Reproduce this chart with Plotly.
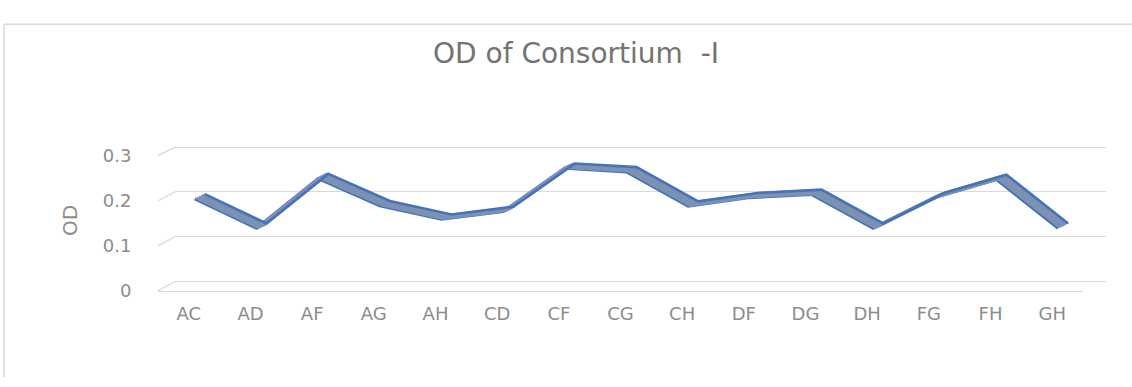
import plotly.graph_objects as go

# ---- data ----
categories = ["AC", "AD", "AF", "AG", "AH", "CD", "CF", "CG", "CH",
              "DF", "DG", "DH", "FG", "FH", "GH"]
od_values = [0.200, 0.135, 0.245, 0.185, 0.155, 0.172, 0.268, 0.260, 0.184,
             0.203, 0.210, 0.135, 0.203, 0.243, 0.135]
y_ticks = [0, 0.1, 0.2, 0.3]
y_tick_text = ["0", "0.1", "0.2", "0.3"]
title_text = "OD of Consortium \u00a0-I"
y_title = "OD"

W, H = 1132, 387


def fx(px):
    return px / W


def fy(py):
    return (H - py) / H


# front plane (labels), back plane (gridlines)
FX0, FX1, FY0, FY1 = 158, 1083, 296, 153
BX0, BX1, BY0, BY1 = 175, 1106, 286, 144
YMAX = 0.3
PAD = 0.006  # small range padding so edge gridlines are drawn

fig = go.Figure()
layout = dict(
    width=W, height=H,
    margin=dict(l=0, r=0, t=0, b=0),
    paper_bgcolor="white", plot_bgcolor="rgba(0,0,0,0)",
    showlegend=False,
)

GRID = "#d9d9d9"
TICKC = "#8c8c8c"
FONT = "DejaVu Sans"


def ydomain(p0, p1, pad):
    ppu = (p0 - p1) / YMAX
    return [fy(p0 + pad * ppu), fy(p1 - pad * ppu)]


# front axes (visible labels)
layout["xaxis"] = dict(
    domain=[fx(FX0), fx(FX1)], type="category", range=[-0.5, 14.5],
    categoryorder="array", categoryarray=categories,
    showgrid=False, zeroline=False, showline=True, linecolor=GRID, linewidth=1.3,
    ticks="outside", ticklen=6, tickcolor="rgba(0,0,0,0)",
    tickfont=dict(family=FONT, size=18, color=TICKC), anchor="y",
)
layout["yaxis"] = dict(
    domain=[fy(FY0), fy(FY1)], range=[0, YMAX],
    tickvals=y_ticks, ticktext=y_tick_text,
    showgrid=False, zeroline=False, showline=False,
    ticks="outside", ticklen=22, tickcolor="rgba(0,0,0,0)",
    tickfont=dict(family=FONT, size=18, color=TICKC), anchor="x",
)
fig.add_trace(go.Scatter(x=categories, y=od_values, mode="lines",
                         line=dict(width=0, color="rgba(0,0,0,0)"),
                         hoverinfo="skip", xaxis="x", yaxis="y"))

# back axes (gridlines)
layout["xaxis2"] = dict(
    domain=[fx(BX0), fx(BX1)], type="category", range=[-0.5, 14.5],
    categoryorder="array", categoryarray=categories,
    showgrid=False, zeroline=False, showticklabels=False, anchor="y2",
)
layout["yaxis2"] = dict(
    domain=ydomain(BY0, BY1, PAD), range=[-PAD, YMAX + PAD], tickvals=y_ticks,
    showgrid=True, gridcolor=GRID, gridwidth=1.3, zeroline=False,
    showticklabels=False, anchor="x2",
)
fig.add_trace(go.Scatter(x=categories, y=od_values, mode="lines",
                         line=dict(width=0, color="rgba(0,0,0,0)"),
                         hoverinfo="skip", xaxis="x2", yaxis="y2"))

# ribbon layers (same data, drawn on slightly offset axes)
EDGE = "#4473ba"
FACE = "#7d91b3"
NL = 6
for k in range(NL):
    dx = 6 + 2.0 * k
    dy = -2 - 1.0 * k
    n = 3 + k
    layout[f"xaxis{n}"] = dict(
        domain=[fx(FX0 + dx), fx(FX1 + dx)], type="category", range=[-0.5, 14.5],
        categoryorder="array", categoryarray=categories,
        visible=False, anchor=f"y{n}",
    )
    layout[f"yaxis{n}"] = dict(
        domain=[fy(FY0 + dy), fy(FY1 + dy)], range=[0, YMAX],
        visible=False, anchor=f"x{n}",
    )

front_n = 3
back_n = 3 + NL - 1
order = list(range(4, back_n)) + [back_n, front_n]
for n in order:
    if n == front_n:
        ln = dict(color=EDGE, width=3.2)
    elif n == back_n:
        ln = dict(color=EDGE, width=2.6)
    else:
        ln = dict(color=FACE, width=3.4)
    fig.add_trace(go.Scatter(x=categories, y=od_values, mode="lines",
                             line=dict(**ln, shape="linear"),
                             hoverinfo="skip", cliponaxis=False,
                             xaxis=f"x{n}", yaxis=f"y{n}"))

shapes = []
# side-wall slants of gridlines
for v in y_ticks:
    yf = fy(FY0) + v / YMAX * (fy(FY1) - fy(FY0))
    yb = fy(BY0) + v / YMAX * (fy(BY1) - fy(BY0))
    shapes.append(dict(type="line", xref="paper", yref="paper",
                       x0=fx(FX0), y0=yf, x1=fx(BX0), y1=yb,
                       line=dict(color=GRID, width=1.3)))
# chart border
shapes.append(dict(type="line", xref="paper", yref="paper",
                   x0=fx(4), y0=fy(14), x1=1, y1=fy(14),
                   line=dict(color=GRID, width=1.5)))
shapes.append(dict(type="line", xref="paper", yref="paper",
                   x0=fx(4), y0=fy(14), x1=fx(4), y1=0,
                   line=dict(color=GRID, width=1.5)))
layout["shapes"] = shapes

layout["annotations"] = [
    dict(text=title_text, xref="paper", yref="paper", x=fx(576), y=fy(45),
         showarrow=False, xanchor="center", yanchor="middle",
         font=dict(family=FONT, size=28, color="#737373")),
    dict(text=y_title, xref="paper", yref="paper", x=fx(70), y=fy(222),
         showarrow=False, xanchor="center", yanchor="middle", textangle=-90,
         font=dict(family=FONT, size=20, color=TICKC)),
]

fig.update_layout(**layout)
fig.write_html("out.html")
